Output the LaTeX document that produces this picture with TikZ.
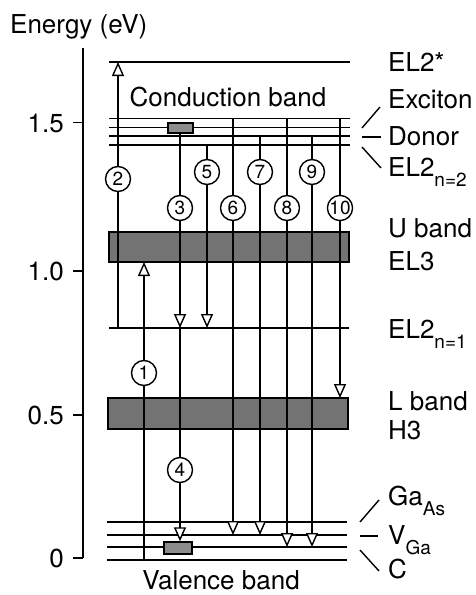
\documentclass[tikz,border=0pt]{standalone}
\usepackage{fontspec}
\setmainfont{TeX Gyre Heros}
\usetikzlibrary{arrows.meta}
\newcommand{\sbx}[1]{\raisebox{-10pt}{\fontsize{19}{19}\selectfont #1}}
\begin{document}
\begin{tikzpicture}[x=1pt,y=-1pt,
  lvl/.style={line width=1.5pt},
  band/.style={draw, line width=1.5pt, fill=black!55},
  vline/.style={line width=1.4pt},
  arr/.style={line width=1.4pt, -{Triangle[length=14pt,width=12pt,fill=white]}},
  num/.style={circle, draw, fill=white, line width=1.4pt, minimum size=25pt, inner sep=0pt, font=\fontsize{19}{19}\selectfont},
  lab/.style={anchor=base west, inner sep=0pt, font=\fontsize{26}{30}\selectfont},
  tlab/.style={anchor=base east, inner sep=0pt, font=\fontsize{26}{30}\selectfont},
  ptr/.style={line width=1.4pt},
  smallbox/.style={draw, fill=black!45, line width=1.4pt, inner sep=0pt}]
\useasboundingbox (0,0) rectangle (476,595);

% axis
\coordinate (axtop) at (83,48);
\coordinate (axbot) at (83,558);
\draw[lvl] (axtop) -- (axbot);
\foreach \yy/\tt in {122.7/1.5, 271/1.0, 415/0.5, 558/0} {
  \draw[lvl] (73,\yy) -- (83,\yy);
  \node[tlab] at (64,\yy+9.3) {\tt};
}
\node[lab] (elab) at (10,33) {Energy (eV)};

% bands
\draw[band] (109,232) rectangle (349,262);
\draw[band] (108,398) rectangle (348,429);

% levels
\draw[lvl] (109,62) -- (350,62);
\foreach \yy in {118.3,127.3,136,145} { \draw[lvl] (109,\yy) -- (350,\yy); }
\draw[lvl] (109,328) -- (349,328);
\foreach \yy in {522,535,547,560} { \draw[lvl] (107,\yy) -- (347,\yy); }

% small boxes
\node[smallbox, minimum width=25pt, minimum height=10pt] (dbox) at (180.5,128) {};
\node[smallbox, minimum width=28pt, minimum height=12pt] (abox) at (178,548) {};

% coordinates
\coordinate (c2a) at (118,328);  \coordinate (c2b) at (118,62);
\coordinate (c1a) at (144,560);  \coordinate (c1b) at (144,262);
\coordinate (c3a) at (180,328);  \coordinate (c3b) at (180,429);
\coordinate (c5a) at (207,145);  \coordinate (c5b) at (207,328);
\coordinate (c6a) at (233,118.3);\coordinate (c6b) at (233,535);
\coordinate (c7a) at (260,136);  \coordinate (c7b) at (260,535);
\coordinate (c8a) at (287,118.3);\coordinate (c8b) at (287,547);
\coordinate (c9a) at (312,136);  \coordinate (c9b) at (312,547);
\coordinate (c10a) at (340,118.3);\coordinate (c10b) at (340,398);

% transitions
\draw[arr] (c2a) -- (c2b);
\draw[arr] (c1a) -- (c1b);
\draw[arr] (dbox.south -| c3a) -- (c3a);
\draw[vline] (c3a) -- (c3b);
\draw[arr] (c3b) -- (abox.north -| c3b);
\draw[arr] (c5a) -- (c5b);
\draw[arr] (c6a) -- (c6b);
\draw[arr] (c7a) -- (c7b);
\draw[arr] (c8a) -- (c8b);
\draw[arr] (c9a) -- (c9b);
\draw[arr] (c10a) -- (c10b);

% numbers
\node[num] (n1) at (144,373) {1};
\node[num] (n2) at (118,179) {2};
\node[num] (n3) at (180,208) {3};
\node[num] (n4) at (180,470) {4};
\node[num] (n5) at (207,172) {5};
\node[num] (n6) at (233,208) {6};
\node[num] (n7) at (260,172) {7};
\node[num] (n8) at (287,208) {8};
\node[num] (n9) at (312,172) {9};
\node[num] (n10) at (340,208) {10};

% band names
\node[lab, anchor=base] (cb) at (228,106) {Conduction band};
\node[lab, anchor=base] (vb) at (221,589) {Valence band};

% right labels
\node[lab] (l1) at (388,71) {EL2*};
\node[lab] (l2) at (388,108) {Exciton};
\node[lab] (l3) at (388,145) {Donor};
\node[lab] (l4) at (388,176) {EL2\sbx{n=2}};
\node[lab] (l5) at (388,237) {U band};
\node[lab] (l6) at (388,270) {EL3};
\node[lab] (l7) at (388,338) {EL2\sbx{n=1}};
\node[lab] (l8) at (388,410) {L band};
\node[lab] (l9) at (388,439) {H3};
\node[lab] (l10) at (388,505) {Ga\sbx{As}};
\node[lab] (l11) at (388,544) {V\sbx{Ga}};
\node[lab] (l12) at (388,578) {C};

% pointers
\draw[ptr] (362,128) -- (380,107);
\draw[ptr] (362,137) -- (381,137);
\draw[ptr] (362,147) -- (381,168);
\draw[ptr] (360,522) -- (379,500);
\draw[ptr] (360,536) -- (378,536);
\draw[ptr] (360,550) -- (379,571);
\end{tikzpicture}
\end{document}
